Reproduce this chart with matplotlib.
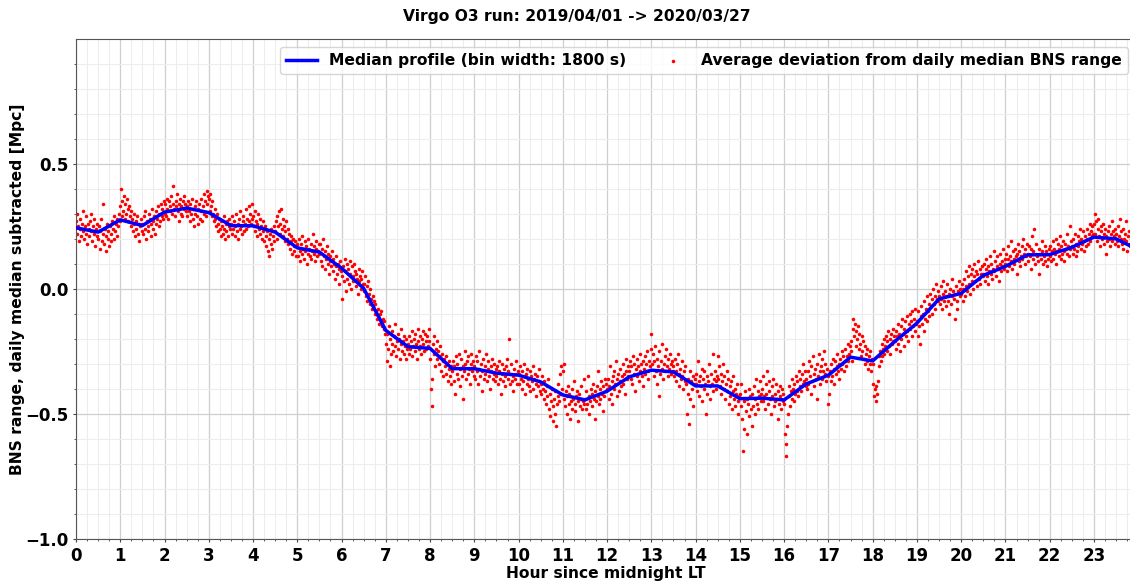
import numpy as np
import matplotlib
matplotlib.use('Agg')
import matplotlib.pyplot as plt
from matplotlib.ticker import MultipleLocator

##########################################################################
# median profile, one value per 30 min bin (hours 0 .. 24)
median_profile = [0.244, 0.227, 0.276, 0.253, 0.307, 0.323, 0.305, 0.253,
                  0.252, 0.227, 0.164, 0.147, 0.083, 0.002, -0.166, -0.231,
                  -0.238, -0.319, -0.319, -0.337, -0.345, -0.372, -0.424, -0.444,
                  -0.409, -0.352, -0.325, -0.332, -0.388, -0.388, -0.439, -0.437,
                  -0.444, -0.380, -0.345, -0.273, -0.288, -0.210, -0.137, -0.040,
                  -0.018, 0.054, 0.090, 0.136, 0.137, 0.166, 0.207, 0.200, 0.156]

# average deviation, one value per minute, one list per hour
h00 = [0.27,0.22,0.30,0.25,0.19,0.24,0.28,0.21,0.26,0.31,0.23,0.20,0.25,0.29,0.22,0.18,0.26,0.24,0.21,0.27,0.23,0.30,0.19,0.25,0.22,0.28,0.17,0.24,0.26,0.21,
       0.20,0.25,0.16,0.23,0.28,0.19,0.22,0.34,0.18,0.24,0.21,0.15,0.26,0.20,0.23,0.17,0.25,0.22,0.19,0.27,0.24,0.20,0.29,0.23,0.26,0.21,0.28,0.25,0.30,0.27]
h01 = [0.33,0.40,0.29,0.35,0.31,0.37,0.28,0.34,0.30,0.36,0.32,0.27,0.33,0.29,0.31,0.25,0.28,0.23,0.30,0.26,0.21,0.27,0.24,0.29,0.22,0.26,0.19,0.25,0.28,0.23,
       0.26,0.22,0.29,0.24,0.31,0.20,0.27,0.25,0.23,0.30,0.28,0.21,0.26,0.32,0.24,0.27,0.29,0.22,0.31,0.26,0.28,0.33,0.25,0.30,0.27,0.34,0.29,0.32,0.28,0.35]
h02 = [0.30,0.34,0.29,0.36,0.32,0.28,0.35,0.31,0.33,0.37,0.30,0.34,0.41,0.32,0.29,0.35,0.33,0.38,0.31,0.27,0.34,0.36,0.30,0.33,0.29,0.35,0.32,0.37,0.34,0.31,
       0.33,0.29,0.35,0.31,0.27,0.34,0.30,0.36,0.32,0.28,0.25,0.33,0.30,0.35,0.29,0.26,0.32,0.34,0.28,0.31,0.36,0.27,0.33,0.30,0.38,0.35,0.29,0.39,0.34,0.37]
h03 = [0.36,0.31,0.38,0.33,0.29,0.35,0.30,0.27,0.32,0.28,0.25,0.30,0.26,0.23,0.28,0.24,0.21,0.27,0.25,0.22,0.29,0.24,0.20,0.26,0.23,0.27,0.21,0.25,0.28,0.24,
       0.26,0.22,0.29,0.24,0.27,0.21,0.25,0.30,0.23,0.26,0.20,0.28,0.24,0.31,0.25,0.22,0.27,0.29,0.23,0.26,0.32,0.24,0.28,0.25,0.33,0.27,0.30,0.26,0.34,0.28]
h04 = [0.29,0.25,0.31,0.23,0.27,0.21,0.26,0.30,0.24,0.22,0.28,0.25,0.20,0.27,0.23,0.19,0.25,0.21,0.17,0.23,0.15,0.20,0.13,0.22,0.18,0.24,0.16,0.21,0.25,0.19,
       0.23,0.27,0.20,0.29,0.25,0.31,0.22,0.26,0.32,0.24,0.28,0.21,0.25,0.19,0.23,0.27,0.20,0.24,0.18,0.22,0.16,0.21,0.19,0.14,0.20,0.17,0.15,0.19,0.13,0.18]
h05 = [0.17,0.13,0.20,0.15,0.11,0.18,0.14,0.21,0.16,0.12,0.19,0.15,0.17,0.10,0.14,0.20,0.16,0.13,0.18,0.12,0.15,0.22,0.14,0.17,0.11,0.16,0.19,0.13,0.15,0.18,
       0.14,0.18,0.11,0.16,0.09,0.20,0.13,0.15,0.08,0.12,0.17,0.10,0.14,0.06,0.11,0.13,0.09,0.15,0.07,0.12,0.10,0.04,0.09,0.13,0.06,0.10,0.08,0.02,0.11,0.07]
h06 = [0.05,-0.04,0.09,0.03,0.12,0.07,-0.01,0.10,0.04,0.08,0.02,0.11,0.06,0.00,0.09,0.05,0.03,0.10,0.07,0.01,0.06,0.04,-0.02,0.08,0.03,0.05,0.00,0.04,0.07,0.02,
       0.02,-0.01,0.05,-0.03,0.01,-0.05,0.03,-0.02,-0.06,0.00,-0.04,-0.08,-0.03,-0.07,-0.05,-0.10,-0.06,-0.09,-0.12,-0.08,-0.11,-0.14,-0.10,-0.13,-0.09,-0.15,-0.12,-0.16,-0.13,-0.18]
h07 = [-0.22,-0.29,-0.18,-0.24,-0.15,-0.31,-0.20,-0.26,-0.17,-0.22,-0.25,-0.19,-0.14,-0.23,-0.27,-0.21,-0.18,-0.24,-0.20,-0.28,-0.22,-0.16,-0.25,-0.21,-0.19,-0.26,-0.23,-0.28,-0.20,-0.24,
       -0.22,-0.26,-0.19,-0.24,-0.21,-0.27,-0.17,-0.23,-0.20,-0.25,-0.18,-0.22,-0.28,-0.21,-0.16,-0.24,-0.19,-0.23,-0.26,-0.20,-0.17,-0.22,-0.25,-0.18,-0.21,-0.24,-0.19,-0.23,-0.16,-0.21]
h08 = [-0.28,-0.40,-0.47,-0.36,-0.22,-0.19,-0.26,-0.31,-0.24,-0.21,-0.28,-0.25,-0.30,-0.23,-0.27,-0.33,-0.26,-0.29,-0.35,-0.28,-0.31,-0.27,-0.34,-0.30,-0.37,-0.32,-0.29,-0.35,-0.31,-0.38,
       -0.33,-0.29,-0.37,-0.31,-0.42,-0.27,-0.34,-0.30,-0.36,-0.26,-0.32,-0.39,-0.28,-0.35,-0.31,-0.44,-0.33,-0.25,-0.30,-0.36,-0.29,-0.34,-0.27,-0.32,-0.38,-0.30,-0.26,-0.33,-0.29,-0.35]
h09 = [-0.31,-0.36,-0.27,-0.33,-0.29,-0.38,-0.32,-0.25,-0.35,-0.30,-0.41,-0.33,-0.28,-0.36,-0.31,-0.34,-0.26,-0.37,-0.32,-0.29,-0.35,-0.40,-0.31,-0.33,-0.28,-0.36,-0.34,-0.30,-0.37,-0.32,
       -0.35,-0.31,-0.38,-0.33,-0.29,-0.36,-0.42,-0.34,-0.30,-0.37,-0.32,-0.39,-0.35,-0.31,-0.28,-0.36,-0.33,-0.20,-0.38,-0.34,-0.30,-0.37,-0.35,-0.41,-0.32,-0.36,-0.29,-0.34,-0.38,-0.33]
h10 = [-0.34,-0.38,-0.31,-0.36,-0.40,-0.33,-0.37,-0.30,-0.35,-0.42,-0.34,-0.38,-0.32,-0.36,-0.39,-0.33,-0.41,-0.35,-0.37,-0.31,-0.40,-0.36,-0.34,-0.43,-0.38,-0.35,-0.39,-0.32,-0.37,-0.41,
       -0.38,-0.42,-0.35,-0.40,-0.44,-0.37,-0.41,-0.46,-0.39,-0.43,-0.36,-0.48,-0.42,-0.51,-0.45,-0.40,-0.53,-0.47,-0.44,-0.50,-0.41,-0.55,-0.46,-0.43,-0.38,-0.45,-0.34,-0.42,-0.31,-0.40]
h11 = [-0.33,-0.44,-0.30,-0.47,-0.41,-0.50,-0.43,-0.39,-0.46,-0.42,-0.52,-0.45,-0.40,-0.48,-0.44,-0.37,-0.46,-0.49,-0.43,-0.41,-0.53,-0.45,-0.42,-0.47,-0.44,-0.39,-0.48,-0.45,-0.36,-0.46,
       -0.44,-0.48,-0.41,-0.46,-0.35,-0.43,-0.50,-0.45,-0.40,-0.47,-0.42,-0.38,-0.44,-0.52,-0.41,-0.45,-0.39,-0.43,-0.33,-0.46,-0.40,-0.44,-0.37,-0.42,-0.49,-0.39,-0.43,-0.36,-0.41,-0.38]
h12 = [-0.40,-0.36,-0.44,-0.39,-0.31,-0.42,-0.37,-0.46,-0.35,-0.40,-0.33,-0.38,-0.29,-0.43,-0.36,-0.34,-0.41,-0.37,-0.32,-0.39,-0.35,-0.30,-0.38,-0.34,-0.42,-0.33,-0.28,-0.36,-0.31,-0.35,
       -0.33,-0.29,-0.36,-0.31,-0.38,-0.27,-0.34,-0.30,-0.41,-0.32,-0.28,-0.35,-0.31,-0.37,-0.26,-0.33,-0.30,-0.35,-0.29,-0.39,-0.32,-0.27,-0.34,-0.30,-0.25,-0.33,-0.36,-0.29,-0.31,-0.24]
h13 = [-0.18,-0.30,-0.26,-0.35,-0.29,-0.23,-0.33,-0.38,-0.28,-0.31,-0.25,-0.43,-0.34,-0.29,-0.32,-0.22,-0.36,-0.30,-0.27,-0.33,-0.24,-0.31,-0.35,-0.28,-0.32,-0.26,-0.30,-0.34,-0.29,-0.33,
       -0.31,-0.35,-0.28,-0.33,-0.37,-0.30,-0.26,-0.34,-0.39,-0.32,-0.36,-0.29,-0.35,-0.40,-0.33,-0.37,-0.31,-0.38,-0.50,-0.42,-0.36,-0.54,-0.33,-0.44,-0.37,-0.40,-0.35,-0.47,-0.38,-0.36]
h14 = [-0.38,-0.34,-0.41,-0.29,-0.37,-0.43,-0.35,-0.39,-0.32,-0.45,-0.36,-0.40,-0.33,-0.38,-0.50,-0.35,-0.42,-0.37,-0.30,-0.39,-0.44,-0.34,-0.38,-0.26,-0.41,-0.36,-0.33,-0.40,-0.37,-0.35,
       -0.27,-0.36,-0.31,-0.39,-0.34,-0.42,-0.37,-0.30,-0.40,-0.35,-0.44,-0.38,-0.33,-0.41,-0.36,-0.46,-0.39,-0.43,-0.37,-0.48,-0.41,-0.35,-0.44,-0.40,-0.47,-0.42,-0.38,-0.45,-0.50,-0.43]
h15 = [-0.42,-0.47,-0.38,-0.52,-0.65,-0.45,-0.56,-0.41,-0.49,-0.44,-0.58,-0.46,-0.40,-0.51,-0.43,-0.48,-0.55,-0.42,-0.47,-0.39,-0.50,-0.44,-0.36,-0.46,-0.41,-0.48,-0.43,-0.37,-0.45,-0.42,
       -0.40,-0.45,-0.35,-0.43,-0.48,-0.38,-0.42,-0.33,-0.46,-0.41,-0.37,-0.44,-0.50,-0.39,-0.43,-0.36,-0.47,-0.42,-0.45,-0.38,-0.44,-0.52,-0.41,-0.46,-0.39,-0.43,-0.48,-0.40,-0.45,-0.42]
h16 = [-0.46,-0.58,-0.67,-0.62,-0.55,-0.50,-0.43,-0.39,-0.47,-0.41,-0.36,-0.44,-0.40,-0.45,-0.38,-0.42,-0.35,-0.41,-0.37,-0.43,-0.33,-0.39,-0.36,-0.41,-0.34,-0.38,-0.30,-0.37,-0.33,-0.39,
       -0.36,-0.40,-0.33,-0.38,-0.29,-0.35,-0.42,-0.31,-0.37,-0.27,-0.34,-0.39,-0.32,-0.36,-0.44,-0.30,-0.35,-0.26,-0.33,-0.38,-0.31,-0.28,-0.36,-0.33,-0.25,-0.34,-0.30,-0.37,-0.32,-0.35]
h17 = [-0.46,-0.42,-0.33,-0.37,-0.30,-0.35,-0.28,-0.32,-0.38,-0.29,-0.34,-0.31,-0.26,-0.33,-0.30,-0.36,-0.28,-0.32,-0.25,-0.30,-0.27,-0.33,-0.29,-0.24,-0.31,-0.27,-0.22,-0.29,-0.26,-0.23,
       -0.25,-0.21,-0.29,-0.16,-0.12,-0.19,-0.14,-0.23,-0.17,-0.20,-0.15,-0.24,-0.18,-0.22,-0.27,-0.19,-0.25,-0.21,-0.28,-0.23,-0.30,-0.26,-0.29,-0.24,-0.32,-0.27,-0.30,-0.25,-0.33,-0.28]
h18 = [-0.30,-0.38,-0.43,-0.40,-0.45,-0.39,-0.42,-0.37,-0.27,-0.31,-0.25,-0.29,-0.22,-0.27,-0.24,-0.20,-0.26,-0.23,-0.19,-0.25,-0.21,-0.17,-0.23,-0.20,-0.26,-0.18,-0.22,-0.16,-0.21,-0.19,
       -0.21,-0.17,-0.24,-0.19,-0.14,-0.22,-0.18,-0.25,-0.15,-0.20,-0.12,-0.18,-0.23,-0.16,-0.13,-0.19,-0.11,-0.17,-0.21,-0.14,-0.10,-0.16,-0.13,-0.19,-0.09,-0.15,-0.12,-0.17,-0.08,-0.14]
h19 = [-0.13,-0.19,-0.09,-0.15,-0.22,-0.11,-0.07,-0.14,-0.10,-0.17,-0.05,-0.12,-0.08,-0.13,-0.03,-0.09,-0.06,-0.11,-0.02,-0.07,-0.10,-0.04,0.00,-0.06,-0.03,-0.08,0.02,-0.04,-0.01,-0.05,
       -0.03,-0.06,0.01,-0.04,-0.08,-0.02,0.03,-0.05,-0.01,-0.07,-0.03,0.02,-0.05,-0.10,-0.02,0.00,-0.06,-0.03,0.04,-0.01,-0.04,-0.12,-0.02,0.01,-0.05,-0.08,-0.01,0.03,-0.03,0.00]
h20 = [-0.02,0.02,-0.05,0.00,0.04,-0.03,0.07,0.01,-0.01,0.05,0.09,0.02,-0.02,0.06,0.03,0.08,0.00,0.05,0.10,0.03,0.07,0.01,0.06,0.11,0.04,0.08,0.02,0.06,0.09,0.05,
       0.06,0.10,0.03,0.08,0.12,0.05,0.09,0.02,0.07,0.13,0.06,0.10,0.04,0.08,0.15,0.07,0.11,0.05,0.09,0.13,0.08,0.03,0.10,0.14,0.07,0.11,0.09,0.16,0.08,0.12]
h21 = [0.10,0.14,0.07,0.12,0.17,0.09,0.13,0.11,0.19,0.08,0.15,0.12,0.10,0.16,0.13,0.06,0.14,0.18,0.11,0.15,0.09,0.13,0.17,0.12,0.20,0.14,0.10,0.16,0.13,0.18,
       0.14,0.11,0.17,0.13,0.08,0.16,0.21,0.12,0.15,0.24,0.10,0.14,0.18,0.13,0.11,0.16,0.06,0.14,0.12,0.19,0.15,0.10,0.13,0.17,0.11,0.15,0.09,0.14,0.12,0.16]
h22 = [0.13,0.17,0.11,0.15,0.19,0.12,0.16,0.14,0.20,0.10,0.15,0.18,0.13,0.16,0.21,0.12,0.17,0.14,0.19,0.15,0.11,0.18,0.16,0.22,0.14,0.17,0.13,0.25,0.16,0.19,
       0.17,0.14,0.20,0.16,0.22,0.13,0.18,0.15,0.21,0.17,0.19,0.24,0.16,0.20,0.18,0.23,0.15,0.19,0.21,0.17,0.24,0.20,0.18,0.22,0.26,0.19,0.23,0.21,0.25,0.22]
h23 = [0.26,0.30,0.22,0.27,0.19,0.24,0.28,0.21,0.17,0.25,0.23,0.20,0.26,0.18,0.22,0.24,0.14,0.21,0.19,0.23,0.25,0.20,0.17,0.22,0.27,0.19,0.23,0.21,0.18,0.24,
       0.22,0.19,0.25,0.17,0.21,0.28,0.20,0.23,0.18,0.16,0.24,0.20,0.22,0.27,0.19,0.15,0.21,0.18,0.23,0.17,0.20,0.14,0.19,0.22,0.16,0.18,0.21,0.15,0.19,0.17]

deviation = h00 + h01 + h02 + h03 + h04 + h05 + h06 + h07 + h08 + h09 + h10 + h11 \
    + h12 + h13 + h14 + h15 + h16 + h17 + h18 + h19 + h20 + h21 + h22 + h23

minute_hours = np.arange(len(deviation)) / 60.
bin_hours = np.arange(len(median_profile)) * 0.5

#########################################################################
plt.rcParams['font.weight'] = 'bold'
plt.rcParams['axes.labelweight'] = 'bold'
plt.rcParams['font.size'] = 11.2

fig = plt.figure(figsize=(11.3, 5.82), dpi=100)
# the axes runs a few pixels past the right edge of the figure
ax = fig.add_axes([76/1130, 43/582, 1060/1130, 500/582])

sc = ax.scatter(minute_hours, deviation, s=6.5, c='red', linewidths=0, zorder=2,
                label='Average deviation from daily median BNS range')
line, = ax.plot(bin_hours, median_profile, color='blue', lw=2.5, zorder=3,
                label='Median profile (bin width: 1800 s)')

ax.set_xlim(0, 23.95)
ax.set_ylim(-1.0, 0.999)
ax.xaxis.set_major_locator(MultipleLocator(1))
ax.xaxis.set_minor_locator(MultipleLocator(0.25))
ax.yaxis.set_major_locator(MultipleLocator(0.5))
ax.yaxis.set_minor_locator(MultipleLocator(0.1))
ax.tick_params(which='major', length=2.5, pad=3, labelsize=12, color='#444444')
ax.tick_params(which='minor', length=1.5, color='#444444')
ax.grid(which='major', color='#cfcfcf', lw=0.9)
ax.grid(which='minor', color='#ededed', lw=0.8)
ax.set_axisbelow(True)
for sp in ax.spines.values():
    sp.set_color('#555555')

ax.set_xlabel('Hour since midnight LT', labelpad=1)
ax.set_ylabel('BNS range, daily median subtracted [Mpc]', labelpad=0)
ax.legend(handles=[line, sc], loc='upper right', ncol=2, fontsize=11.2)

fig.text(577/1130, 1 - 17/582, 'Virgo O3 run: 2019/04/01 -> 2020/03/27',
         ha='center', va='center', fontsize=11.2, fontweight='bold')

fig.savefig('out.png', dpi=100)
